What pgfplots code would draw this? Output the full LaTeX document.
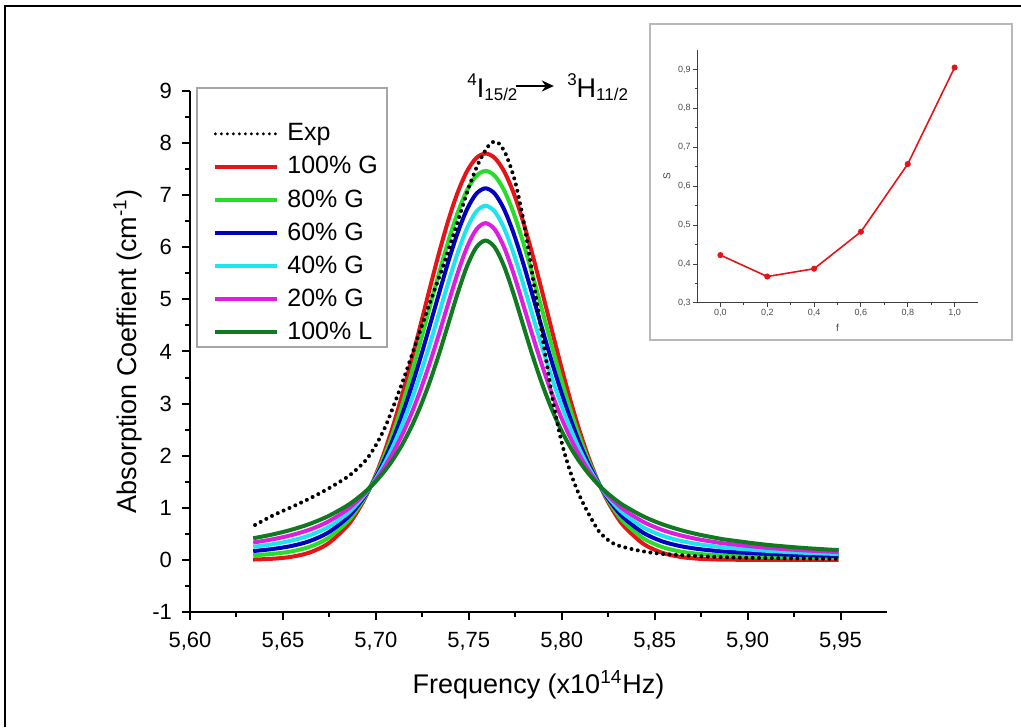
\documentclass[border=0pt]{standalone}
\usepackage{fontspec}
\setmainfont{Liberation Sans}
\usepackage{pgfplots}
\pgfplotsset{compat=1.18}
\usepackage{pgfplotstable}
\usetikzlibrary{arrows.meta}

\definecolor{cRed}{RGB}{228,20,24}
\definecolor{cGreen}{RGB}{40,220,40}
\definecolor{cBlue}{RGB}{0,0,190}
\definecolor{cCyan}{RGB}{30,228,238}
\definecolor{cMag}{RGB}{222,30,222}
\definecolor{cDkG}{RGB}{16,122,32}

\pgfplotstableread{
x g100 g80 g60 g40 g20 l100
5.634 0.007 0.089 0.170 0.252 0.333 0.415
5.644 0.021 0.114 0.207 0.299 0.392 0.485
5.654 0.056 0.159 0.263 0.366 0.470 0.573
5.664 0.137 0.247 0.356 0.466 0.575 0.685
5.674 0.306 0.411 0.517 0.622 0.728 0.833
5.684 0.627 0.708 0.788 0.869 0.949 1.030
5.689 0.867 0.924 0.982 1.039 1.097 1.154
5.694 1.174 1.199 1.224 1.249 1.274 1.299
5.699 1.553 1.536 1.520 1.503 1.487 1.470
5.704 2.010 1.943 1.876 1.808 1.741 1.674
5.709 2.543 2.417 2.292 2.166 2.041 1.915
5.714 3.147 2.958 2.769 2.581 2.392 2.203
5.719 3.807 3.555 3.302 3.050 2.797 2.545
5.724 4.504 4.193 3.882 3.571 3.260 2.949
5.729 5.211 4.853 4.495 4.136 3.778 3.420
5.734 5.894 5.506 5.118 4.730 4.342 3.954
5.739 6.520 6.123 5.726 5.328 4.931 4.534
5.744 7.052 6.665 6.278 5.891 5.504 5.117
5.749 7.458 7.093 6.728 6.364 5.999 5.634
5.754 7.713 7.370 7.027 6.684 6.341 5.998
5.759 7.800 7.466 7.132 6.798 6.464 6.130
5.764 7.713 7.370 7.027 6.684 6.341 5.998
5.769 7.458 7.093 6.728 6.364 5.999 5.634
5.774 7.052 6.665 6.278 5.891 5.504 5.117
5.779 6.520 6.123 5.726 5.328 4.931 4.534
5.784 5.894 5.506 5.118 4.730 4.342 3.954
5.789 5.211 4.853 4.495 4.136 3.778 3.420
5.794 4.504 4.193 3.882 3.571 3.260 2.949
5.799 3.807 3.555 3.302 3.050 2.797 2.545
5.804 3.147 2.958 2.769 2.581 2.392 2.203
5.809 2.543 2.417 2.292 2.166 2.041 1.915
5.814 2.010 1.943 1.876 1.808 1.741 1.674
5.819 1.553 1.536 1.520 1.503 1.487 1.470
5.824 1.174 1.199 1.224 1.249 1.274 1.299
5.829 0.867 0.924 0.982 1.039 1.097 1.154
5.834 0.627 0.708 0.788 0.869 0.949 1.030
5.844 0.306 0.411 0.517 0.622 0.728 0.833
5.854 0.137 0.247 0.356 0.466 0.575 0.685
5.864 0.056 0.159 0.263 0.366 0.470 0.573
5.874 0.021 0.114 0.207 0.299 0.392 0.485
5.884 0.007 0.089 0.170 0.252 0.333 0.415
5.889 0.004 0.080 0.157 0.233 0.310 0.386
5.909 0.000 0.059 0.118 0.177 0.236 0.295
5.929 0.000 0.046 0.093 0.139 0.186 0.232
5.949 0.000 0.037 0.075 0.112 0.150 0.187
}\fits

\pgfplotstableread{
x y
5.635 0.67
5.645 0.86
5.655 1.02
5.665 1.19
5.675 1.38
5.685 1.60
5.690 1.75
5.695 1.93
5.700 2.20
5.705 2.55
5.710 3.00
5.715 3.48
5.720 4.00
5.725 4.52
5.730 5.03
5.735 5.52
5.740 6.05
5.745 6.60
5.750 7.15
5.755 7.60
5.760 7.92
5.763 8.02
5.766 8.00
5.770 7.78
5.775 7.25
5.780 6.40
5.785 5.30
5.790 4.20
5.795 3.10
5.800 2.25
5.805 1.65
5.810 1.20
5.815 0.85
5.820 0.55
5.825 0.38
5.830 0.28
5.840 0.19
5.850 0.13
5.860 0.10
5.875 0.07
5.900 0.04
5.950 0.02
}\expdata

\begin{document}
\begin{tikzpicture}
\useasboundingbox (0pt,0pt) rectangle (510.5pt,363.5pt);
% outer frame (top and left edges visible)
\draw[line width=1.2pt] (2.5pt,0pt) -- (2.5pt,360.5pt) -- (510.5pt,360.5pt);
% inset frame
\draw[line width=1pt, gray!55] (325pt,193.5pt) rectangle (506pt,351.5pt);
% legend frame
\draw[line width=0.6pt, gray!70] (98.5pt,190pt) rectangle (193.5pt,319.5pt);

\begin{axis}[
  at={(95pt,57.5pt)}, anchor=south west,
  scale only axis, width=348.5pt, height=260.5pt,
  xmin=5.60, xmax=5.975, ymin=-1, ymax=9,
  axis x line*=bottom, axis y line*=left,
  axis line style={line width=1pt, -},
  tick align=outside,
  xtick={5.60,5.65,5.70,5.75,5.80,5.85,5.90,5.95},
  ytick={-1,0,1,2,3,4,5,6,7,8,9},
  minor x tick num=1, minor y tick num=1,
  major tick length=4pt, minor tick length=2.5pt,
  every tick/.style={line width=1pt, black},
  xticklabel style={/pgf/number format/.cd, fixed, fixed zerofill, precision=2, use comma, /tikz/.cd, yshift=-2.5pt},
  yticklabel style={xshift=-1.5pt},
  /pgf/number format/assume math mode=true,
  ticklabel style={font=\fontsize{11}{12}\selectfont},
  xlabel={Frequency (x10\textsuperscript{14}Hz)},
  ylabel={Absorption Coeffient (cm\textsuperscript{-1})},
  label style={font=\fontsize{13.5}{15}\selectfont},
  xlabel style={at={(axis description cs:0.5,-0.14)}, anchor=center},
  ylabel style={at={(axis description cs:-0.089,0.5)}, anchor=center},
  legend style={at={(axis description cs:0.033,0.941)}, anchor=north west,
    font=\fontsize{12.5}{14}\selectfont, draw=none, fill=none,
    inner xsep=0pt, inner ysep=0pt, row sep=4.7pt,
    nodes={inner sep=0.8pt},
    /tikz/every odd column/.append style={column sep=3.2pt}},
  legend cell align=left,
  legend image code/.code={\draw[#1] (0pt,0pt) -- (31pt,0pt);},
]
\addlegendimage{black, line width=1.6pt, line cap=round, dash pattern=on 0pt off 3pt}
\addlegendentry{Exp}
\addplot[cRed, line width=2pt, smooth] table[x=x,y=g100]{\fits};
\addlegendentry{100\% G}
\addplot[cGreen, line width=2pt, smooth] table[x=x,y=g80]{\fits};
\addlegendentry{80\% G}
\addplot[cBlue, line width=2pt, smooth] table[x=x,y=g60]{\fits};
\addlegendentry{60\% G}
\addplot[cCyan, line width=2pt, smooth] table[x=x,y=g40]{\fits};
\addlegendentry{40\% G}
\addplot[cMag, line width=2pt, smooth] table[x=x,y=g20]{\fits};
\addlegendentry{20\% G}
\addplot[cDkG, line width=2pt, smooth] table[x=x,y=l100]{\fits};
\addlegendentry{100\% L}
\addplot[black, line width=2pt, line cap=round, dash pattern=on 0pt off 3.2pt, forget plot, smooth] table[x=x,y=y]{\expdata};
\end{axis}

\node[anchor=base west, inner sep=0pt] at (233.5pt,314.5pt)
  {\fontsize{13.5}{15}\selectfont
   \raisebox{6pt}{\fontsize{8.5}{9}\selectfont 4}I\raisebox{-1.5pt}{\fontsize{8.5}{9}\selectfont 15/2}\kern-1.5pt
   \tikz[baseline=-6pt]\draw[-{Stealth[length=6pt,width=5.5pt]}, line width=1.4pt] (0pt,0pt) -- (19pt,0pt);\kern6pt
   \raisebox{6pt}{\fontsize{8.5}{9}\selectfont 3}H\raisebox{-1.5pt}{\fontsize{8.5}{9}\selectfont 11/2}};

\begin{axis}[
  at={(348.5pt,212pt)}, anchor=south west,
  scale only axis, width=140.5pt, height=126.5pt,
  xmin=-0.1, xmax=1.1, ymin=0.3, ymax=0.95,
  axis x line*=bottom, axis y line*=left,
  axis line style={line width=0.5pt, black!75, -},
  tick align=outside,
  xtick={0,0.2,0.4,0.6,0.8,1.0},
  ytick={0.3,0.4,0.5,0.6,0.7,0.8,0.9},
  minor x tick num=1, minor y tick num=1,
  major tick length=2pt, minor tick length=1.2pt,
  every tick/.style={line width=0.5pt, black!75},
  /pgf/number format/.cd, fixed, fixed zerofill, precision=1, use comma, assume math mode=true,
  /pgfplots/.cd,
  ticklabel style={font=\fontsize{4.5}{5}\selectfont, text=black!70, inner sep=1pt},
  xlabel={f}, ylabel={S},
  label style={font=\fontsize{5}{6}\selectfont, text=black!75},
  xlabel style={at={(axis description cs:0.5,-0.10)}, anchor=center},
  ylabel style={at={(axis description cs:-0.107,0.5)}, anchor=center},
]
\addplot[cRed, line width=0.8pt, mark=*, mark size=1.1pt] coordinates {
 (0,0.423) (0.2,0.368) (0.4,0.388) (0.6,0.483) (0.8,0.657) (1.0,0.905)};
\end{axis}
\end{tikzpicture}
\end{document}
